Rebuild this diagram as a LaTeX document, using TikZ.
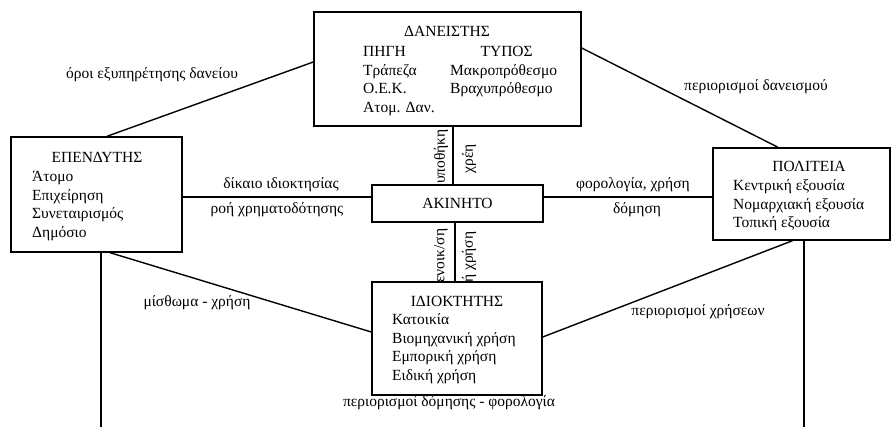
\documentclass[tikz,border=0pt]{standalone}
\usepackage{fontspec}
\setmainfont{Liberation Serif}
\usetikzlibrary{positioning, calc, backgrounds}

\begin{document}
\begin{tikzpicture}[
      x=1pt, y=-1pt,
      every node/.style = {font=\fontsize{15.5}{18.5}\selectfont},
      box/.style        = {draw, line width=1.4pt, fill=white, inner sep=0pt},
      link/.style       = {line width=1.4pt},
      lbl/.style        = {inner sep=0pt},
      vlbl/.style       = {inner sep=0pt, rotate=90}
    ]
    \useasboundingbox (0,0) rectangle (894,427);

    % Boxes
    \node[box, minimum width=267pt, minimum height=114pt] (lender) at (447.5,69) {};
    \node[box, minimum width=171pt, minimum height=115pt] (investor) at (96.5,194.5) {};
    \node[box, minimum width=177pt, minimum height=92pt] (state) at (801.5,194) {};
    \node[box, minimum width=171pt, minimum height=37pt] (property) at (457.5,203.5) {ΑΚΙΝΗΤΟ};
    \node[box, minimum width=170pt, minimum height=113pt] (owner) at (457,338.5) {};

    % Box contents
    \node[lbl, anchor=base] (lendertitle) at (447,37) {ΔΑΝΕΙΣΤΗΣ};
    \node[lbl, anchor=base west] (lenderitems) at (363,57) {\begin{tabular}[t]{@{}p{87pt}@{}l@{}}
      ΠΗΓΗ & \multicolumn{1}{c@{}}{ΤΥΠΟΣ}\\
      Τράπεζα & Μακροπρόθεσμο\\
      Ο.Ε.Κ. & Βραχυπρόθεσμο\\
      Ατομ. Δαν. &
    \end{tabular}};
    \node[lbl, anchor=base] (investortitle) at (97,163) {ΕΠΕΝΔΥΤΗΣ};
    \node[lbl, anchor=base west] (investoritems) at (32,182) {\begin{tabular}[t]{@{}l@{}}
      Άτομο\\ Επιχείρηση\\ Συνεταιρισμός\\ Δημόσιο
    \end{tabular}};
    \node[lbl, anchor=base] (statetitle) at (809,172) {ΠΟΛΙΤΕΙΑ};
    \node[lbl, anchor=base west] (stateitems) at (733,191) {\begin{tabular}[t]{@{}l@{}}
      Κεντρική εξουσία\\ Νομαρχιακή εξουσία\\ Τοπική εξουσία
    \end{tabular}};
    \node[lbl, anchor=base] (ownertitle) at (457,307) {ΙΔΙΟΚΤΗΤΗΣ};
    \node[lbl, anchor=base west] (owneritems) at (392,325) {\begin{tabular}[t]{@{}l@{}}
      Κατοικία\\ Βιομηχανική χρήση\\ Εμπορική χρήση\\ Ειδική χρήση
    \end{tabular}};

    % Relationships
    \coordinate (propleft) at ([yshift=6.5pt]property.west);
    \coordinate (propright) at ([yshift=6.5pt]property.east);
    \coordinate (proptop) at ([xshift=-4.5pt]property.north);
    \coordinate (propbottom) at ([xshift=-2.5pt]property.south);
    \coordinate (investordown) at (101,427);
    \coordinate (statedown) at (804,427);
    \draw[link] ([xshift=10.5pt]investor.north) -- ([yshift=7pt]lender.west);
    \draw[link] ([yshift=21pt]lender.east) -- ([xshift=-23.5pt]state.north);
    \draw[link] (investor.east |- propleft) -- (propleft);
    \draw[link] (propright) -- (state.west |- propright);
    \draw[link] (proptop) -- (proptop |- lender.south);
    \draw[link] (propbottom) -- (propbottom |- owner.north);
    \draw[link] ([xshift=13.5pt]investor.south) -- ([yshift=6.5pt]owner.west);
    \draw[link] ([xshift=-9pt]state.south) -- ([yshift=1.5pt]owner.east);
    \draw[link] (investor.south -| investordown) -- (investordown);
    \draw[link] (state.south -| statedown) -- (statedown);

    % Labels
    \node[lbl] (servicing) at (152,75) {όροι εξυπηρέτησης δανείου};
    \node[lbl] (lendlimits) at (756,87) {περιορισμοί δανεισμού};
    \node[lbl] (ownership) at (281,185) {δίκαιο ιδιοκτησίας};
    \node[lbl] (financing) at (277,210) {ροή χρηματοδότησης};
    \node[lbl] (taxuse) at (633,185) {φορολογία, χρήση};
    \node[lbl] (building) at (637,210) {δόμηση};
    \node[lbl] (rentuse) at (197,303) {μίσθωμα - χρήση};
    \node[lbl] (uselimits) at (698,312) {περιορισμοί χρήσεων};
    \node[lbl] (buildtax) at (449,403) {περιορισμοί δόμησης - φορολογία};
    \begin{scope}[on background layer]
      \node[vlbl, anchor=west] (mortgage) at (441,184) {υποθήκη};
      \node[vlbl] (debts) at (469,159) {χρέη};
      \node[vlbl, anchor=west] (renting) at (441,283) {ενοικ/ση};
      \node[vlbl, anchor=west] (ownuse) at (469,283) {ή χρήση};
    \end{scope}

  \end{tikzpicture}
\end{document}
